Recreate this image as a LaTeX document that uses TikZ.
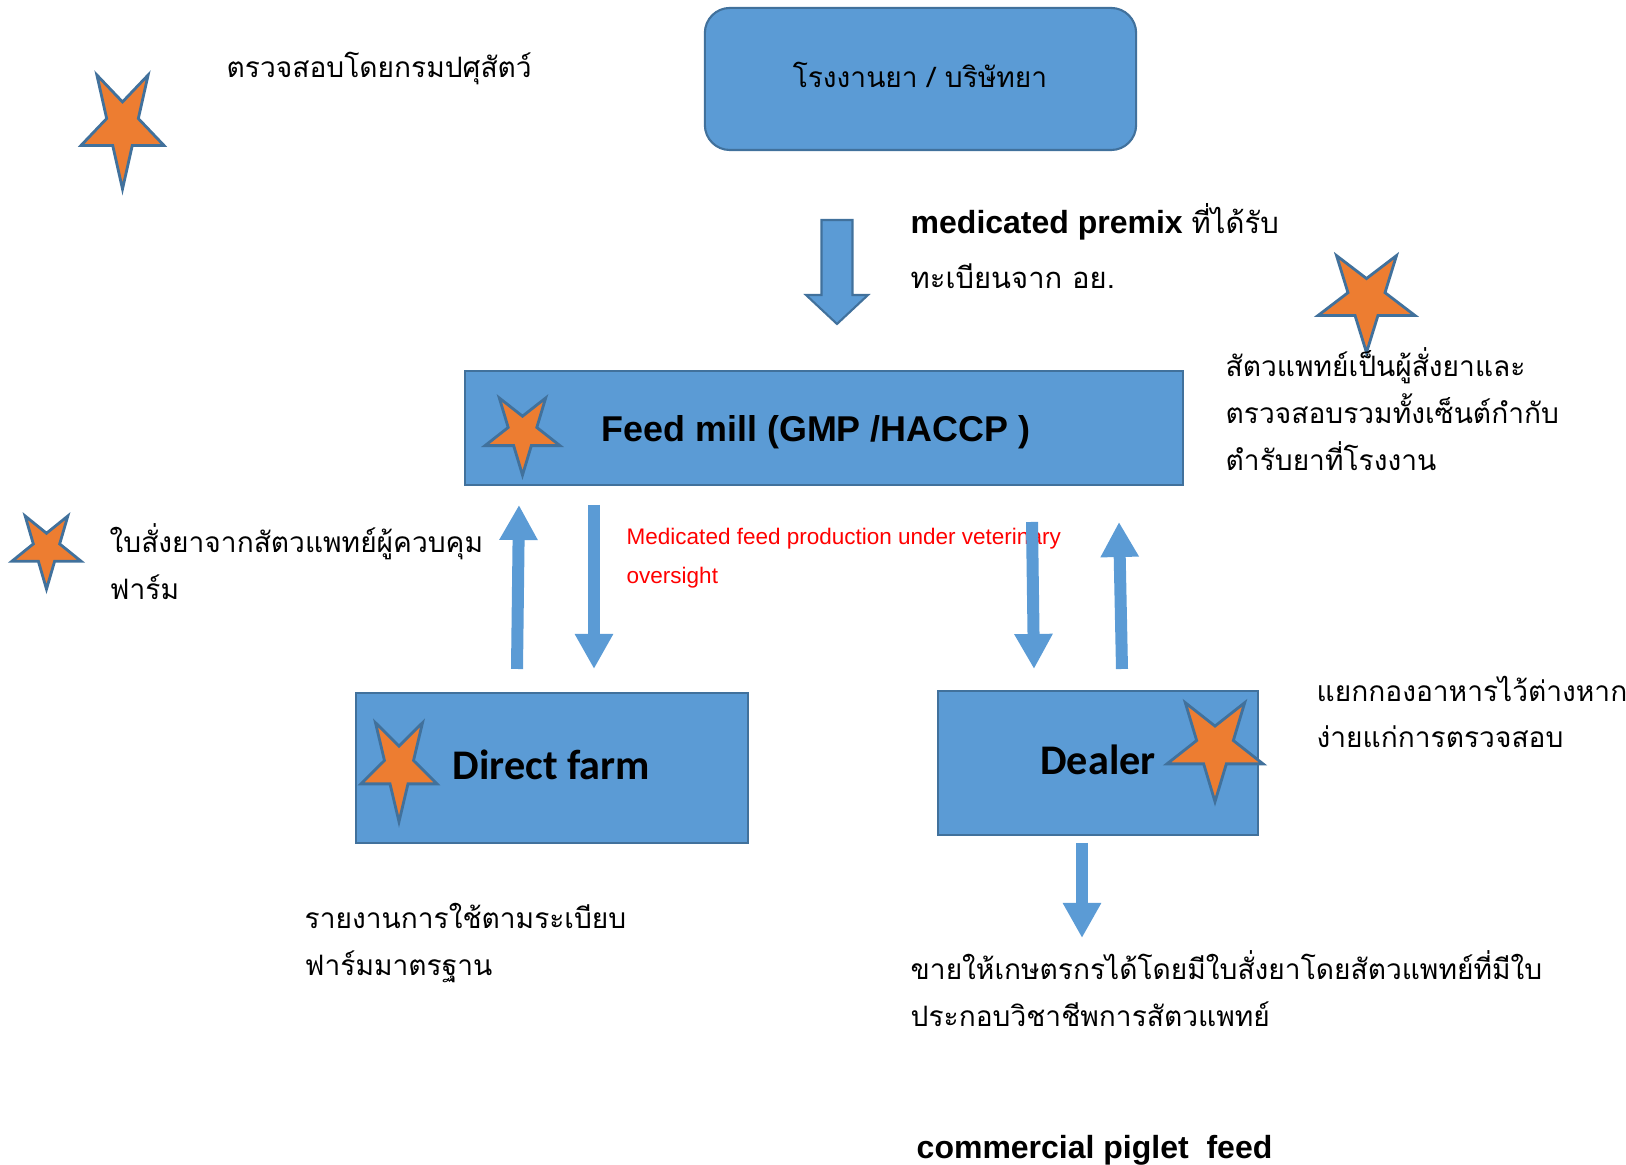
\documentclass[tikz,border=0pt]{standalone}
\usepackage{fontspec}
\setmainfont{Liberation Sans}
\newfontfamily\thaifont[Script=Thai]{Loma}
\newfontfamily\calibrifont{Carlito}
\usetikzlibrary{arrows.meta}
\definecolor{boxblue}{HTML}{5B9BD5}
\definecolor{boxedge}{HTML}{41719C}
\definecolor{starorange}{HTML}{ED7D31}
\tikzset{
  block/.style = {draw=boxedge, line width=0.6pt, fill=boxblue, inner sep=0pt},
  thai/.style = {font=\thaifont\fontsize{8}{13.3}\selectfont, inner sep=0pt, align=left, anchor=west},
  fatarrow/.style = {draw=boxblue, line width=0.12cm, -{Triangle[width=0.36cm,length=0.35cm]}},
  starline/.style = {draw=boxedge, line width=0.8pt, fill=starorange, line join=miter},
  vetstar/.pic = {\path[starline] (90:1) \foreach \a in {126,198,270,342,414} {-- (\a:0.382) -- (\a+36:1)} -- cycle;}
}

\begin{document}
\begin{tikzpicture}[x=0.01cm, y=-0.01cm]
    \useasboundingbox (0,0) rectangle (1626,1165);

    \node[block, rounded corners=0.25cm, minimum width=4.31cm, minimum height=1.42cm] (plant) at (920.5,79) {};
    \node[block, minimum width=7.18cm, minimum height=1.14cm] (mill) at (824,428) {};
    \node[block, minimum width=3.92cm, minimum height=1.50cm] (farm) at (552,768) {};
    \node[block, minimum width=3.20cm, minimum height=1.44cm] (dealer) at (1098,763) {};

    \node[inner sep=0pt, font=\thaifont\fontsize{8}{10}\selectfont] (plantname) at (920,75) {โรงงานยา / บริษัทยา};
    \node[inner sep=0pt, font=\fontsize{10.2}{12}\selectfont\bfseries] (millname) at (816,432) {Feed mill (GMP /HACCP )};
    \node[inner sep=0pt, font=\calibrifont\fontsize{12}{14}\selectfont\bfseries] (farmname) at (551.5,765) {Direct farm};
    \node[inner sep=0pt, font=\calibrifont\fontsize{12}{14}\selectfont\bfseries] (dealername) at (1098,760) {Dealer};

    \pic[xscale=43.6, yscale=63] at (122.5,126) {vetstar};
    \pic[xscale=51, yscale=53.6] at (1366.5,299) {vetstar};
    \pic[xscale=39.4, yscale=42.6] at (522.5,432.5) {vetstar};
    \pic[xscale=36.3, yscale=40.4] at (46.5,548.7) {vetstar};
    \pic[xscale=40, yscale=54.7] at (399,767) {vetstar};
    \pic[xscale=50.5, yscale=54.7] at (1215,747) {vetstar};

    \node[thai] (dld) at (226,69) {ตรวจสอบโดยกรมปศุสัตว์};
    \node[inner sep=0pt, align=left, anchor=west, font=\fontsize{9.1}{15.6}\selectfont] (premixtext) at (910,246)
        {\textbf{medicated premix} {\thaifont\fontsize{8.3}{15.6}\selectfont ที่ได้รับ}\\ {\thaifont\fontsize{8.3}{15.6}\selectfont ทะเบียนจาก อย.}};
    \node[thai] (vetcheck) at (1225,409) {สัตวแพทย์เป็นผู้สั่งยาและ\\ ตรวจสอบรวมทั้งเซ็นต์กำกับ\\ ตำรับยาที่โรงงาน};
    \node[thai] (rx) at (109,561.5) {ใบสั่งยาจากสัตวแพทย์ผู้ควบคุม\\ ฟาร์ม};
    \node[inner sep=0pt, align=left, anchor=west, text=red, font=\fontsize{6.4}{11}\selectfont] (oversight) at (626,558)
        {Medicated feed production under veterinary\\ oversight};
    \node[thai] (report) at (304,943) {รายงานการใช้ตามระเบียบ\\ ฟาร์มมาตรฐาน};
    \node[thai] (separate) at (1316,712) {แยกกองอาหารไว้ต่างหาก\\ ง่ายแก่การตรวจสอบ};
    \node[thai] (sell) at (910,989) {ขายให้เกษตรกรได้โดยมีใบสั่งยาโดยสัตวแพทย์ที่มีใบ\\ ประกอบวิชาชีพการสัตวแพทย์};
    \node[inner sep=0pt, anchor=west, font=\fontsize{9.1}{11}\selectfont\bfseries] (piglet) at (916,1150) {commercial piglet\ \ feed};

    \coordinate (premix) at (837,220);
    \filldraw[draw=boxedge, line width=0.6pt, fill=boxblue] (premix) ++(-15.5,0) -- ++(31,0) -- ++(0,75) -- ++(15.5,0)
        -- ++(-31,29) -- ++(-31,-29) -- ++(15.5,0) -- cycle;

    \coordinate (farmup1) at (517,669);
    \coordinate (farmup2) at (519,505);
    \coordinate (farmdown1) at (594,505);
    \coordinate (farmdown2) at (594,669);
    \coordinate (dealerdown1) at (1032,522);
    \coordinate (dealerdown2) at (1034,669);
    \coordinate (dealerup1) at (1122,669);
    \coordinate (dealerup2) at (1119,522);
    \coordinate (sell1) at (1082,843);
    \coordinate (sell2) at (1082,938);
    \draw[fatarrow] (farmup1) -- (farmup2);
    \draw[fatarrow] (farmdown1) -- (farmdown2);
    \draw[fatarrow] (dealerdown1) -- (dealerdown2);
    \draw[fatarrow] (dealerup1) -- (dealerup2);
    \draw[fatarrow] (sell1) -- (sell2);
\end{tikzpicture}
\end{document}
